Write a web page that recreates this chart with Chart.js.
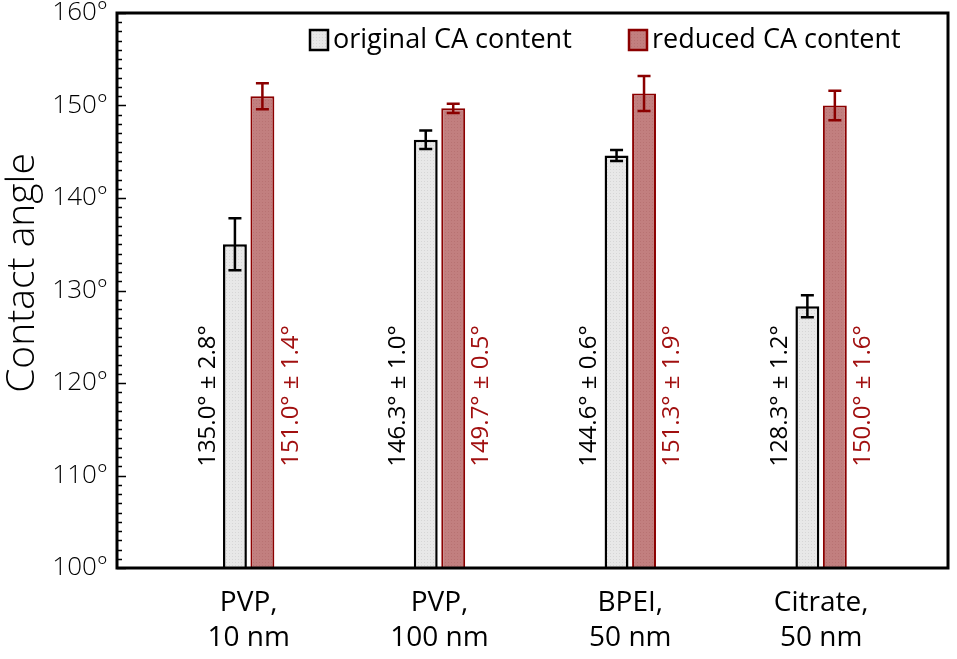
<!DOCTYPE html>
<html>
<head>
<meta charset="utf-8">
<script src="https://cdn.jsdelivr.net/npm/chart.js@4.4.1/dist/chart.umd.min.js"></script>
<style>
  html, body { margin: 0; padding: 0; background: #fff; }
  #wrap { width: 957px; height: 659px; }
</style>
</head>
<body>
<div id="wrap"><canvas id="chart"></canvas></div>
<script>
const categories = [['PVP,', '10 nm'], ['PVP,', '100 nm'], ['BPEI,', '50 nm'], ['Citrate,', '50 nm']];
const originalValues = [135.0, 146.3, 144.6, 128.3];
const originalErrors = [2.8, 1.0, 0.6, 1.2];
const reducedValues = [151.0, 149.7, 151.3, 150.0];
const reducedErrors = [1.4, 0.5, 1.9, 1.6];
const yTicks = [100, 110, 120, 130, 140, 150, 160];

const FONT = "'Open Sans', sans-serif";
const DARK_RED = '#8b0000';
const TEXT_RED = '#a11010';

function makePattern(base, dot) {
  const c = document.createElement('canvas');
  c.width = 3; c.height = 3;
  const g = c.getContext('2d');
  g.fillStyle = base;
  g.fillRect(0, 0, 3, 3);
  g.fillStyle = dot;
  g.fillRect(1, 1, 1, 1);
  return g.createPattern(c, 'repeat');
}

const greyFill = makePattern('#e8e8e8', '#d6d6d6');
const redFill = makePattern('#c27f7f', '#b87272');

const toPoints = values => values.map((v, i) => ({ x: i, y: v }));

// frame, inner ticks, error bars, value labels, axis title and legend
const decorations = {
  id: 'decorations',
  afterDatasetsDraw(chart) {
    const { ctx, chartArea: a, scales: { y } } = chart;
    ctx.save();

    // error bars
    const errs = [originalErrors, reducedErrors];
    const vals = [originalValues, reducedValues];
    const colors = ['#000', DARK_RED];
    chart.data.datasets.forEach((ds, d) => {
      const meta = chart.getDatasetMeta(d);
      meta.data.forEach((bar, i) => {
        const top = y.getPixelForValue(vals[d][i] + errs[d][i]);
        const bottom = y.getPixelForValue(vals[d][i] - errs[d][i]);
        ctx.strokeStyle = colors[d];
        ctx.lineWidth = 2.5;
        ctx.beginPath();
        ctx.moveTo(bar.x, top); ctx.lineTo(bar.x, bottom);
        ctx.moveTo(bar.x - 6.5, top); ctx.lineTo(bar.x + 6.5, top);
        ctx.moveTo(bar.x - 6.5, bottom); ctx.lineTo(bar.x + 6.5, bottom);
        ctx.stroke();
      });
    });

    // rotated value labels
    const xScale = chart.scales.x;
    ctx.font = '24px ' + FONT;
    ctx.textAlign = 'center';
    ctx.textBaseline = 'middle';
    categories.forEach((c, i) => {
      const cx = xScale.getPixelForValue(i);
      [[-41, '#000', originalValues[i], originalErrors[i]],
       [42, TEXT_RED, reducedValues[i], reducedErrors[i]]].forEach(([dx, col, v, e]) => {
        ctx.save();
        ctx.translate(cx + dx, 396);
        ctx.rotate(-Math.PI / 2);
        ctx.fillStyle = col;
        ctx.fillText(v.toFixed(1) + '° ± ' + e.toFixed(1) + '°', 0, 0);
        ctx.restore();
      });
    });

    // y axis title, a little above the middle of the frame
    ctx.save();
    ctx.translate(23, 273);
    ctx.rotate(-Math.PI / 2);
    ctx.font = '300 39px ' + FONT;
    ctx.fillStyle = '#000';
    ctx.fillText('Contact angle', 0, 0);
    ctx.restore();

    // minor and major ticks on the y axis, inside
    ctx.strokeStyle = '#000';
    ctx.lineWidth = 1.5;
    ctx.beginPath();
    for (let v = 100; v <= 160; v++) {
      const py = Math.round(y.getPixelForValue(v)) + 0.5;
      const len = v % 10 === 0 ? 9 : 5;
      ctx.moveTo(a.left, py);
      ctx.lineTo(a.left + len, py);
    }
    ctx.stroke();

    // frame
    ctx.lineWidth = 3;
    ctx.strokeRect(a.left, a.top, a.right - a.left, a.bottom - a.top);

    // legend inside the plot
    const legend = [
      { x: 310, text: 'original CA content', fill: greyFill, stroke: '#000' },
      { x: 629, text: 'reduced CA content', fill: redFill, stroke: DARK_RED }
    ];
    ctx.font = '27px ' + FONT;
    ctx.textAlign = 'left';
    ctx.textBaseline = 'middle';
    legend.forEach(l => {
      ctx.fillStyle = l.fill;
      ctx.fillRect(l.x, 30, 18, 20);
      ctx.strokeStyle = l.stroke;
      ctx.lineWidth = 2.5;
      ctx.strokeRect(l.x, 30, 18, 20);
      ctx.fillStyle = '#000';
      ctx.fillText(l.text, l.x + 23, 40);
    });

    ctx.restore();
  }
};

new Chart(document.getElementById('chart'), {
  type: 'bar',
  data: {
    datasets: [
      {
        label: 'original CA content',
        data: toPoints(originalValues),
        backgroundColor: greyFill,
        borderColor: '#000',
        borderWidth: 2.5,
        borderSkipped: false,
        categoryPercentage: 0.288,
        barPercentage: 0.87
      },
      {
        label: 'reduced CA content',
        data: toPoints(reducedValues),
        backgroundColor: redFill,
        borderColor: DARK_RED,
        borderWidth: 2,
        borderSkipped: false,
        categoryPercentage: 0.288,
        barPercentage: 0.87
      }
    ]
  },
  options: {
    responsive: true,
    maintainAspectRatio: false,
    animation: false,
    layout: { padding: { left: 0, right: 9, top: 13, bottom: 0 } },
    plugins: {
      legend: { display: false },
      tooltip: { enabled: false }
    },
    scales: {
      x: {
        type: 'linear',
        offset: false,
        min: -0.69,
        max: 3.665,
        grid: { display: false, drawTicks: false, offset: false },
        border: { display: false },
        afterBuildTicks: scale => {
          scale.ticks = categories.map((c, i) => ({ value: i }));
        },
        afterFit: scale => {
          scale.height = 91;
          scale.paddingLeft = 0;
          scale.paddingRight = 0;
        },
        ticks: {
          padding: 18,
          color: '#000',
          font: { family: FONT, size: 28, lineHeight: 1.25 },
          callback: value => categories[value]
        }
      },
      y: {
        min: 100,
        max: 160,
        grid: { display: false, drawTicks: false },
        border: { display: false },
        afterBuildTicks: scale => {
          scale.ticks = yTicks.map(v => ({ value: v }));
        },
        afterFit: scale => {
          scale.width = 117;
          scale.paddingTop = 0;
          scale.paddingBottom = 0;
        },
        ticks: {
          padding: 9,
          color: '#000',
          font: { family: FONT, size: 26, weight: '300', lineHeight: 1 },
          callback: value => value + '°'
        }
      }
    }
  },
  plugins: [decorations]
});
</script>
</body>
</html>
